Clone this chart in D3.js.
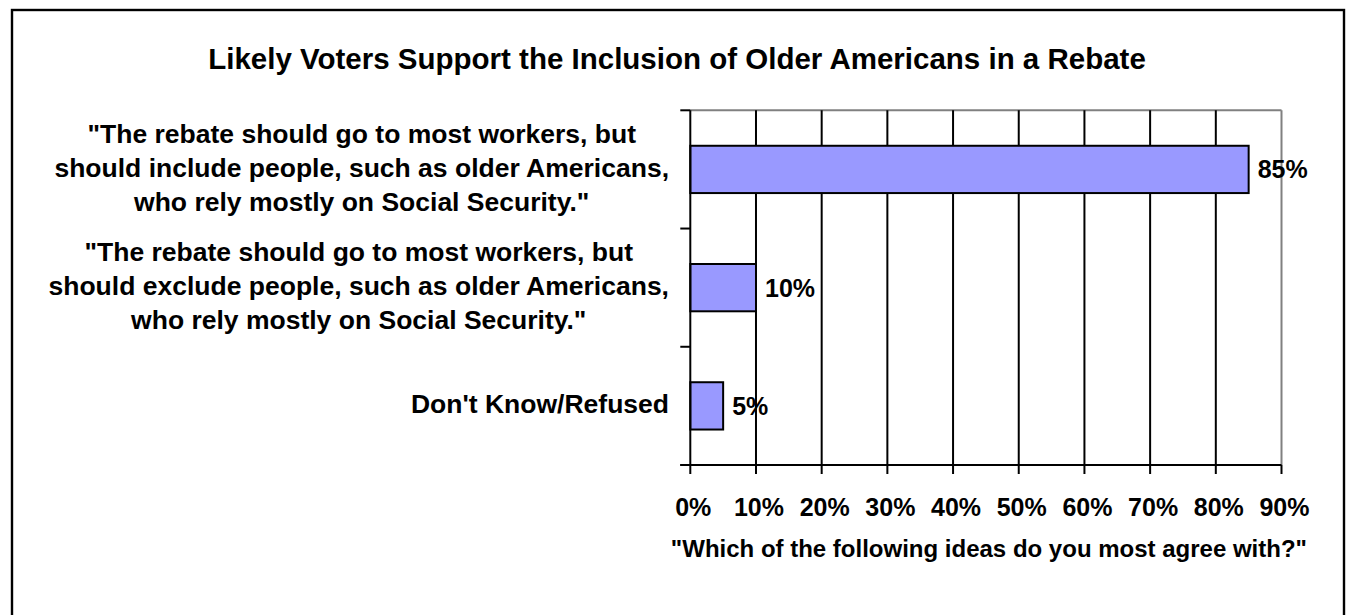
<!DOCTYPE html>
<html>
<head>
<meta charset="utf-8">
<script src="https://cdn.jsdelivr.net/npm/d3@7"></script>
<style>
  html, body { margin: 0; padding: 0; background: #fff; overflow: hidden; }
  text { font-family: "Liberation Sans", Arial, sans-serif; font-weight: bold; fill: #000; }
</style>
</head>
<body>
<svg id="chart" width="1348" height="615"></svg>
<script>
const chartTitle = "Likely Voters Support the Inclusion of Older Americans in a Rebate";
const axisTitle = "\"Which of the following ideas do you most agree with?\"";
const categories = [
  ["\"The rebate should go to most workers, but", "should include people, such as older Americans,", "who rely mostly on Social Security.\""],
  ["\"The rebate should go to most workers, but", "should exclude people, such as older Americans,", "who rely mostly on Social Security.\""],
  ["Don't Know/Refused"]
];
const values = [85, 10, 5];
const tickValues = [0, 10, 20, 30, 40, 50, 60, 70, 80, 90];
const tickLabels = ["0%", "10%", "20%", "30%", "40%", "50%", "60%", "70%", "80%", "90%"];
const valueLabels = ["85%", "10%", "5%"];

const svg = d3.select("#chart");
const plot = { left: 690.3, right: 1281.5, top: 110.3, bottom: 465 };

const x = d3.scaleLinear().domain([0, 90]).range([plot.left, plot.right]);
const y = d3.scaleBand().domain(d3.range(categories.length))
  .range([plot.top, plot.bottom]).paddingInner(0.6).paddingOuter(0.3);

function addText(g, str, px, py, size, anchor) {
  return g.append("text")
    .attr("x", px).attr("y", py)
    .attr("text-anchor", anchor)
    .style("font-size", size + "px")
    .text(str);
}

// outer border
svg.append("rect").attr("x", 12).attr("y", 10).attr("width", 1332).attr("height", 640)
  .attr("fill", "none").attr("stroke", "#000").attr("stroke-width", 2.4);

// title
addText(svg, chartTitle, 677, 69, 29.5, "middle");

// plot frame (top and right in gray)
svg.append("line").attr("x1", plot.left).attr("x2", plot.right).attr("y1", plot.top).attr("y2", plot.top)
  .attr("stroke", "#808080").attr("stroke-width", 2);
svg.append("line").attr("x1", plot.right).attr("x2", plot.right).attr("y1", plot.top).attr("y2", plot.bottom)
  .attr("stroke", "#808080").attr("stroke-width", 2);

// gridlines
svg.append("g").selectAll("line").data(tickValues.filter(d => d > 0 && d < 90)).join("line")
  .attr("x1", d => x(d)).attr("x2", d => x(d)).attr("y1", plot.top).attr("y2", plot.bottom)
  .attr("stroke", "#000").attr("stroke-width", 2);

// bars
svg.append("g").selectAll("rect").data(values).join("rect")
  .attr("x", x(0)).attr("y", (d, i) => y(i))
  .attr("width", d => x(d) - x(0)).attr("height", y.bandwidth())
  .attr("fill", "#9999FF").attr("stroke", "#000").attr("stroke-width", 2);

// value labels
const vg = svg.append("g");
values.forEach((d, i) => {
  addText(vg, valueLabels[i], x(d) + 9, y(i) + y.bandwidth() / 2 + 9, 25, "start");
});

// left axis line + ticks at category boundaries
svg.append("line").attr("x1", plot.left).attr("x2", plot.left).attr("y1", plot.top).attr("y2", plot.bottom)
  .attr("stroke", "#000").attr("stroke-width", 2);
const bounds = d3.range(categories.length + 1).map(i => plot.top + i * y.step());
svg.append("g").selectAll("line").data(bounds).join("line")
  .attr("x1", plot.left - 10).attr("x2", plot.left).attr("y1", d => d).attr("y2", d => d)
  .attr("stroke", "#000").attr("stroke-width", 2);

// bottom axis
svg.append("line").attr("x1", plot.left - 10).attr("x2", plot.right).attr("y1", plot.bottom).attr("y2", plot.bottom)
  .attr("stroke", "#000").attr("stroke-width", 2);
svg.append("g").selectAll("line").data(tickValues).join("line")
  .attr("x1", d => x(d)).attr("x2", d => x(d)).attr("y1", plot.bottom).attr("y2", plot.bottom + 9)
  .attr("stroke", "#000").attr("stroke-width", 2);
const tg = svg.append("g");
tickValues.forEach((d, i) => {
  addText(tg, tickLabels[i], x(d) + 3, 516, 25, "middle");
});

// axis title
addText(svg, axisTitle, (plot.left + plot.right) / 2 + 3, 557, 24, "middle");

// category labels: lines centered within block, block right-aligned
const cg = svg.append("g");
const labelRight = 669, lineGap = 34;
categories.forEach((lines, i) => {
  const cy = y(i) + y.bandwidth() / 2;
  const nodes = lines.map((ln, j) => {
    const by = cy + 7.5 + (j - (lines.length - 1) / 2) * lineGap;
    return addText(cg, ln, 0, by, 26.5, "middle");
  });
  const maxW = d3.max(nodes, n => n.node().getComputedTextLength());
  const cx = labelRight - maxW / 2;
  nodes.forEach(n => n.attr("x", cx));
});
</script>
</body>
</html>
